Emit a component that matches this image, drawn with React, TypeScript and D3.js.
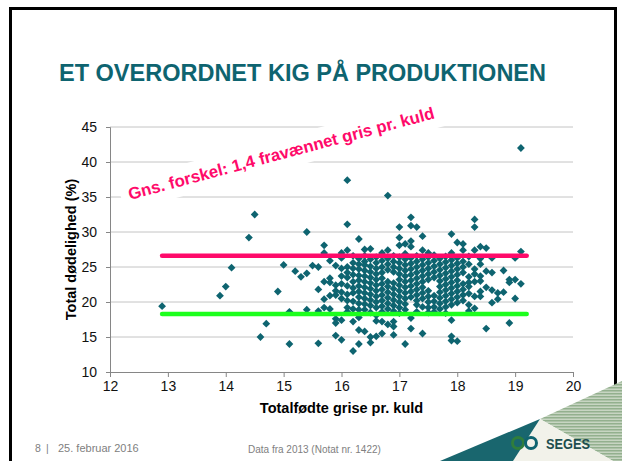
import React, { useEffect, useRef } from 'react';
import * as d3 from 'd3';

const title = 'ET OVERORDNET KIG PÅ PRODUKTIONEN';
const xLabel = 'Totalfødte grise pr. kuld';
const yLabel = 'Total dødelighed (%)';
const note = 'Gns. forskel: 1,4 fravænnet gris pr. kuld';
const footDate = '25. februar 2016';
const footPage = '8';
const footSource = 'Data fra 2013 (Notat nr. 1422)';

const xTicks = [12, 13, 14, 15, 16, 17, 18, 19, 20];
const yTicks = [10, 15, 20, 25, 30, 35, 40, 45];

// average levels drawn as the two thick lines
const upperLevel = 26.6;
const lowerLevel = 18.3;
const levelFrom = 12.9;
const levelTo = 19.2;

// scattered herds outside the dense core
const outliers: [number, number][] = [
  [12.9, 19.4], [13.9, 20.9], [14.0, 22.2], [14.1, 24.9], [14.4, 29.2], [14.5, 32.5],
  [14.7, 16.9], [14.6, 15.0], [14.9, 21.5], [15.0, 25.3], [15.1, 18.6], [15.1, 14.0],
  [15.2, 24.4], [15.3, 23.6], [15.4, 24.1], [15.4, 30.0], [15.4, 18.9], [15.5, 25.2],
  [15.6, 25.0], [15.6, 21.8], [15.6, 18.7], [15.6, 14.1],
  [18.5, 16.2], [18.9, 17.0], [18.5, 27.7], [18.5, 24.4], [18.5, 22.1],
  [18.6, 26.3], [18.6, 24.2], [18.6, 21.7], [18.6, 19.9],
  [18.7, 21.3], [18.7, 20.4], [18.8, 24.5], [18.8, 21.4], [18.9, 23.2], [18.9, 22.8],
  [19.0, 26.3], [19.0, 23.2], [19.0, 20.5], [19.1, 27.2], [19.1, 22.6], [19.1, 42.0],
];

// dense core, one column per litter size
const columns: [number, number[]][] = [
  [15.7, [28.1, 27.0, 22.9, 20.4, 19.2]],
  [15.8, [25.9, 23.4, 22.8, 20.9, 19.0]],
  [15.9, [25.2, 22.4, 21.6, 21.0, 17.6, 17.0, 15.2]],
  [16.0, [27.0, 26.3, 24.8, 23.7, 22.6, 21.4, 20.5, 17.4, 14.6]],
  [16.1, [37.4, 31.1, 27.4, 25.0, 24.2, 23.5, 22.3, 21.1, 20.2, 19.2, 18.6]],
  [16.2, [26.6, 25.6, 24.8, 23.9, 22.9, 22.0, 21.3, 20.1, 19.0, 17.2, 13.0]],
  [16.3, [29.0, 26.2, 25.4, 24.7, 23.8, 23.1, 22.3, 21.5, 20.7, 19.8, 18.9, 17.8, 16.0, 14.0]],
  [16.4, [27.5, 26.6, 25.8, 25.3, 24.5, 23.7, 22.9, 22.1, 21.3, 20.5, 19.7, 18.9, 15.8]],
  [16.5, [27.6, 26.1, 25.1, 24.3, 23.5, 22.7, 21.9, 21.1, 20.3, 19.5, 18.5, 15.0, 14.2]],
  [16.6, [26.4, 25.6, 24.8, 24.0, 23.2, 22.4, 21.6, 20.8, 20.0, 19.2, 18.1, 17.3, 15.1]],
  [16.7, [27.0, 25.9, 25.0, 24.2, 23.4, 22.6, 21.8, 21.0, 20.2, 19.4, 18.6, 17.2, 15.5]],
  [16.8, [35.2, 27.4, 26.2, 25.4, 24.6, 22.9, 22.2, 21.4, 20.6, 19.8, 19.0, 16.8]],
  [16.9, [26.6, 25.8, 25.0, 24.3, 22.7, 21.9, 21.1, 20.3, 19.5, 18.7, 17.2, 16.5, 15.3]],
  [17.0, [30.7, 29.2, 28.1, 26.4, 25.6, 24.8, 24.0, 23.2, 22.4, 21.6, 20.8, 20.0, 19.2, 18.4]],
  [17.1, [28.3, 26.9, 26.1, 25.3, 24.5, 23.7, 22.9, 22.1, 21.3, 20.5, 19.7, 18.9, 14.0]],
  [17.2, [32.1, 30.9, 28.7, 27.9, 26.3, 25.5, 24.7, 23.9, 23.1, 22.3, 21.5, 20.7, 17.7, 16.2]],
  [17.3, [30.7, 26.6, 25.8, 25.0, 24.2, 23.4, 22.6, 21.8, 21.0, 20.2, 19.6, 18.6]],
  [17.4, [29.4, 27.4, 26.1, 25.3, 24.5, 23.7, 22.9, 22.1, 21.3, 20.5, 19.3, 15.5]],
  [17.5, [27.0, 26.4, 25.6, 24.8, 24.0, 23.2, 21.6, 20.8, 20.0, 19.2, 18.5]],
  [17.6, [26.7, 25.9, 25.1, 24.3, 23.5, 20.9, 20.1, 19.3, 18.6]],
  [17.7, [26.2, 25.4, 24.6, 23.8, 23.0, 22.2, 21.4, 20.6, 19.8, 19.0]],
  [17.8, [26.5, 25.7, 24.9, 24.1, 23.3, 22.5, 21.7, 20.9, 20.1, 19.3, 18.4]],
  [17.9, [29.7, 27.0, 26.0, 25.2, 24.4, 23.6, 22.8, 22.0, 21.2, 20.4, 19.6, 17.4, 15.1, 14.5]],
  [18.0, [28.5, 26.3, 25.5, 24.7, 23.9, 23.1, 22.3, 21.5, 20.7, 19.9, 14.4]],
  [18.1, [28.3, 27.4, 25.8, 25.0, 24.2, 22.6, 21.8, 21.0, 20.2]],
  [18.2, [26.5, 25.4, 23.6, 22.8, 22.2, 21.2, 19.6, 18.7]],
  [18.3, [31.8, 30.7, 27.4, 24.7, 24.0, 22.9, 20.8, 19.1]],
  [18.4, [27.9, 26.2, 25.4, 23.7, 23.0, 21.5, 20.8]],
];

const FONT = "'Liberation Sans', Arial, sans-serif";
const TEAL = '#0E6470';
const PINK = '#FF0A6A';

export default function App() {
  const ref = useRef<SVGSVGElement>(null);

  useEffect(() => {
    const width = 622;
    const height = 461;
    const margin = { top: 127, left: 110, bottom: 89, right: 49 };
    const iwidth = width - margin.left - margin.right;
    const iheight = height - margin.top - margin.bottom;

    const svg = d3.select(ref.current);
    svg.selectAll('*').remove();
    svg.attr('width', width).attr('height', height);

    svg.append('rect').attr('width', width).attr('height', height).attr('fill', '#fff');

    // slide frame
    svg.append('rect')
      .attr('x', 10.5).attr('y', 8.5)
      .attr('width', 605).attr('height', 470)
      .attr('fill', 'none').attr('stroke', '#000').attr('stroke-width', 3);

    svg.append('text')
      .attr('x', 59).attr('y', 81)
      .attr('font-family', FONT).attr('font-weight', 'bold').attr('font-size', 23.5)
      .attr('fill', TEAL)
      .text(title);

    const x = d3.scaleLinear().domain([12, 20]).range([0, iwidth]);
    const y = d3.scaleLinear().domain([10, 45]).range([iheight, 0]);

    const g = svg.append('g').attr('transform', `translate(${margin.left},${margin.top})`);

    g.selectAll('line.grid')
      .data(yTicks.slice(1))
      .enter().append('line')
      .attr('class', 'grid')
      .attr('x1', 0).attr('x2', iwidth)
      .attr('y1', d => y(d)).attr('y2', d => y(d))
      .attr('stroke', '#c4c4c4').attr('stroke-width', 1);

    const xAxis = g.append('g')
      .attr('transform', `translate(0,${iheight})`)
      .call(d3.axisBottom(x).tickValues(xTicks).tickSize(5).tickPadding(4).tickFormat(d3.format('d')));
    const yAxis = g.append('g')
      .call(d3.axisLeft(y).tickValues(yTicks).tickSize(4).tickPadding(9).tickFormat(d3.format('d')));

    [xAxis, yAxis].forEach(a => {
      a.select('.domain').attr('stroke', '#868686');
      a.selectAll('.tick line').attr('stroke', '#868686');
      a.selectAll('.tick text')
        .attr('font-family', FONT).attr('font-size', 14).attr('fill', '#111');
    });

    // annotation with its white backing
    const noteG = g.append('g')
      .attr('transform', `translate(${130 - margin.left},${200 - margin.top}) rotate(-15)`);
    const bg = noteG.append('rect').attr('fill', '#fff');
    const noteText = noteG.append('text')
      .attr('font-family', FONT).attr('font-weight', 'bold').attr('font-size', 16.8)
      .attr('fill', PINK)
      .text(note);
    const bb = (noteText.node() as SVGTextElement).getBBox();
    bg.attr('x', bb.x - 8).attr('y', bb.y - 6).attr('width', bb.width + 16).attr('height', bb.height + 12);

    const points: [number, number][] = outliers.concat(
      columns.flatMap(([cx, ys]) => ys.map(v => [cx, v] as [number, number]))
    );

    const r = 3.9;
    const diamond = `M0,${-r}L${r},0L0,${r}L${-r},0Z`;
    g.selectAll('path.pt')
      .data(points)
      .enter().append('path')
      .attr('class', 'pt')
      .attr('d', diamond)
      .attr('transform', d => `translate(${x(d[0])},${y(d[1])})`)
      .attr('fill', TEAL);

    const levels = [
      { v: upperLevel, c: PINK },
      { v: lowerLevel, c: '#1DFF1D' },
    ];
    g.selectAll('line.level')
      .data(levels)
      .enter().append('line')
      .attr('class', 'level')
      .attr('x1', x(levelFrom)).attr('x2', x(levelTo))
      .attr('y1', d => y(d.v)).attr('y2', d => y(d.v))
      .attr('stroke', d => d.c).attr('stroke-width', 4.5).attr('stroke-linecap', 'round');

    svg.append('text')
      .attr('x', margin.left + iwidth / 2).attr('y', 413)
      .attr('text-anchor', 'middle')
      .attr('font-family', FONT).attr('font-weight', 'bold').attr('font-size', 14.5)
      .text(xLabel);
    svg.append('text')
      .attr('transform', `translate(76,${margin.top + iheight / 2}) rotate(-90)`)
      .attr('text-anchor', 'middle')
      .attr('font-family', FONT).attr('font-weight', 'bold').attr('font-size', 14.5)
      .text(yLabel);

    // footer
    svg.append('text').attr('x', 35).attr('y', 452)
      .attr('font-family', FONT).attr('font-size', 10.5).attr('fill', '#808080').text(footPage);
    svg.append('text').attr('x', 46).attr('y', 452)
      .attr('font-family', FONT).attr('font-size', 10.5).attr('fill', '#808080').text('|');
    svg.append('text').attr('x', 58).attr('y', 452)
      .attr('font-family', FONT).attr('font-size', 11).attr('fill', '#808080').text(footDate);
    svg.append('text').attr('x', 248).attr('y', 453)
      .attr('font-family', FONT).attr('font-size', 10).attr('fill', '#808080').text(footSource);

    // SEGES corner
    const defs = svg.append('defs');
    const pat = defs.append('pattern').attr('id', 'stripes')
      .attr('width', 4).attr('height', 3).attr('patternUnits', 'userSpaceOnUse');
    pat.append('rect').attr('width', 4).attr('height', 3).attr('fill', '#c7d5c2');
    pat.append('rect').attr('width', 4).attr('height', 1.5).attr('fill', '#93b08e');

    svg.append('path').attr('d', 'M540,419L622,381L622,461L613,461Z').attr('fill', 'url(#stripes)');
    svg.append('path').attr('d', 'M540,419L613,461L513,461Z').attr('fill', '#f2f2ea');
    svg.append('path').attr('d', 'M540,419L513,461L440,461Z').attr('fill', '#19666e');

    svg.append('circle').attr('cx', 518).attr('cy', 443).attr('r', 5.5)
      .attr('fill', 'none').attr('stroke', '#2f7d3c').attr('stroke-width', 3);
    svg.append('circle').attr('cx', 531).attr('cy', 443).attr('r', 5.5)
      .attr('fill', 'none').attr('stroke', '#0f6470').attr('stroke-width', 3);
    svg.append('text').attr('x', 546).attr('y', 449)
      .attr('font-family', FONT).attr('font-weight', 'bold').attr('font-size', 15)
      .attr('textLength', 44).attr('lengthAdjust', 'spacingAndGlyphs')
      .attr('fill', '#1d4e4f').text('SEGES');
  }, []);

  return (
    <div id='chartArea'>
      <svg ref={ref} style={{ position: 'absolute', left: 0, top: 0 }} />
    </div>
  );
}
